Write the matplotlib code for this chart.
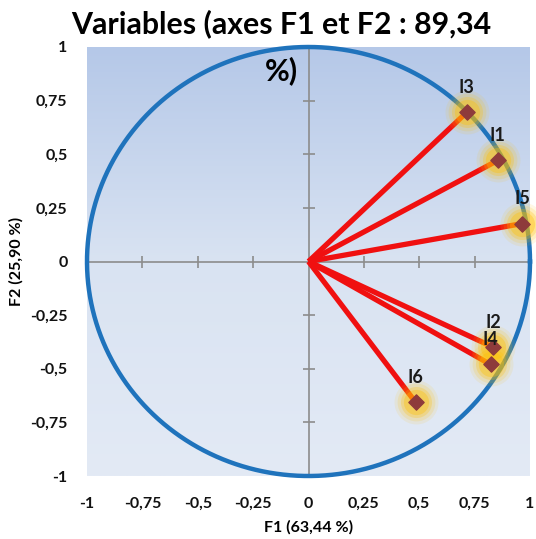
import matplotlib.pyplot as plt
import numpy as np

plt.rcParams['font.family'] = ['Lato', 'DejaVu Sans']

# coordonnées des variables sur F1 / F2
variables = ['I1', 'I2', 'I3', 'I4', 'I5', 'I6']
f1 = [0.854, 0.835, 0.714, 0.822, 0.966, 0.484]
f2 = [0.471, -0.400, 0.695, -0.480, 0.177, -0.657]

ticks = [-1, -0.75, -0.5, -0.25, 0, 0.25, 0.5, 0.75, 1]
tick_labels = ['-1', '-0,75', '-0,5', '-0,25', '0', '0,25', '0,5', '0,75', '1']

fig = plt.figure(figsize=(5.36, 5.39), dpi=100)
ax = fig.add_axes([87 / 536, 63 / 539, 443 / 536, 429 / 539])

# fond en dégradé (plus foncé en haut)
grad = np.linspace(0, 1, 256).reshape(-1, 1)
cmap = plt.matplotlib.colors.LinearSegmentedColormap.from_list(
    'bg', ['#b5c8e8', '#d9e3f2', '#e3eaf5'])
ax.imshow(grad, extent=[-1, 1, -1, 1], origin='upper', cmap=cmap,
          aspect='auto', zorder=0)

# axes passant par zéro
ax.axhline(0, color='#8c8c8c', lw=1.2, zorder=1)
ax.axvline(0, color='#8c8c8c', lw=1.2, zorder=1)
tk = [t for t in ticks if t != 0]
ax.plot(tk, [0] * len(tk), ls='none', marker='|', ms=8, mew=1.2,
        color='#8c8c8c', zorder=1)
ax.plot([0] * len(tk), tk, ls='none', marker='_', ms=8, mew=1.2,
        color='#8c8c8c', zorder=1)

# cercle des corrélations
theta = np.linspace(0, 2 * np.pi, 400)
ax.plot(np.cos(theta), np.sin(theta), color='#1f73bc', lw=3.2,
        zorder=2, clip_on=False)

# vecteurs
for x, y in zip(f1, f2):
    ax.plot([0, x], [0, y], color='#f01010', lw=3.8,
            solid_capstyle='butt', zorder=3)

# halo jaune autour des points
for s, a in [(1000, 0.10), (740, 0.15), (500, 0.25), (330, 0.35)]:
    ax.scatter(f1, f2, s=s, color='#ffc000', alpha=a, lw=0, zorder=4,
               clip_on=False)
ax.scatter(f1, f2, s=60, marker='D', color='#8e3b3b', zorder=5,
           clip_on=False)

for name, x, y in zip(variables, f1, f2):
    ax.annotate(name, (x, y), xytext=(0, 12), textcoords='offset points',
                ha='center', va='bottom', fontsize=13, fontweight='bold',
                color='#1a1a1a', zorder=6, annotation_clip=False)

ax.set_xlim(-1, 1)
ax.set_ylim(-1, 1)
for sp in ax.spines.values():
    sp.set_visible(False)
ax.set_xticks(ticks)
ax.set_xticklabels(tick_labels)
ax.set_yticks(ticks)
ax.set_yticklabels(tick_labels)
ax.tick_params(length=0, labelsize=11.5, pad=15, labelcolor='#111111')
for lb in ax.get_xticklabels() + ax.get_yticklabels():
    lb.set_fontweight('bold')
ax.tick_params(axis='y', pad=14)

ax.set_xlabel('F1 (63,44 %)', fontsize=11.5, fontweight='bold', labelpad=7)
ax.set_ylabel('F2 (25,90 %)', fontsize=11.5, fontweight='bold', labelpad=5)

fig.text(0.525, 1 - 33 / 539, 'Variables (axes F1 et F2 : 89,34',
         ha='center', va='baseline', fontsize=21.8, fontweight='bold')
fig.text(0.525, 1 - 80 / 539, '%)', ha='center', va='baseline',
         fontsize=21.8, fontweight='bold', zorder=10)

fig.savefig('out.png', dpi=100)
